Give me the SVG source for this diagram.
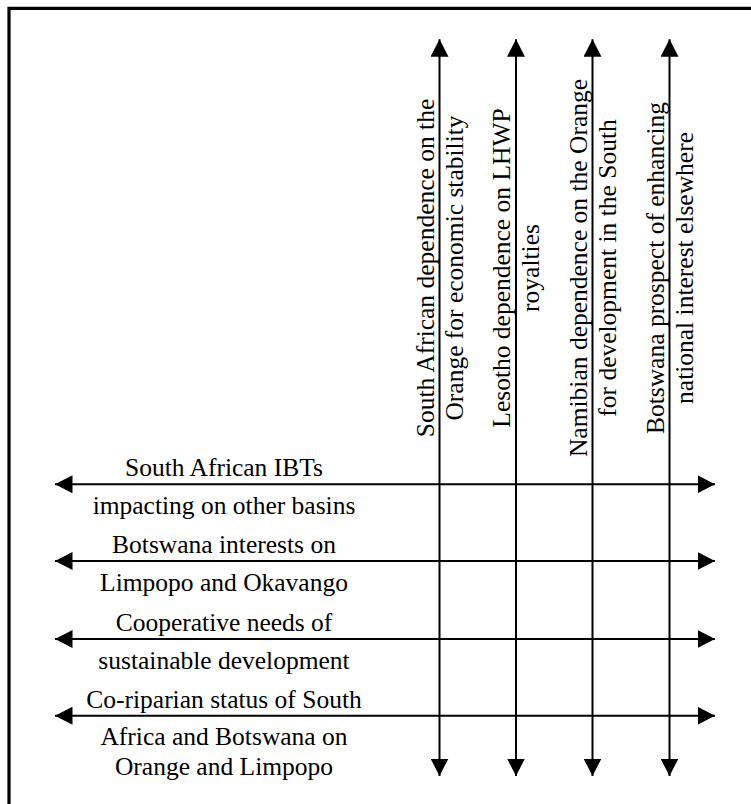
<svg xmlns="http://www.w3.org/2000/svg" width="751" height="804" viewBox="0 0 751 804">
<defs>
<style>
.t{font-family:"Liberation Serif","Times New Roman",serif;font-size:25.5px;fill:#000;text-anchor:middle}
.c{stroke:#000;stroke-width:2;fill:none;marker-start:url(#ah);marker-end:url(#ah)}
</style>
<marker id="ah" viewBox="0 0 17.5 18" refX="17.5" refY="9" markerWidth="17.5" markerHeight="18" markerUnits="userSpaceOnUse" orient="auto-start-reverse">
<path d="M0,0 L17.5,9 L0,18 Z" fill="#000"/>
</marker>
</defs>
<rect width="751" height="804" fill="#fff"/>
<path d="M9,804 V8.3 H751" fill="none" stroke="#000" stroke-width="3.2"/>
<g id="connectors">
<line class="c" x1="439.5" y1="39.3" x2="439.5" y2="776"/>
<line class="c" x1="516" y1="39.3" x2="516" y2="776"/>
<line class="c" x1="592.5" y1="39.3" x2="592.5" y2="776"/>
<line class="c" x1="669.5" y1="39.3" x2="669.5" y2="776"/>
<line class="c" x1="55" y1="484.3" x2="715" y2="484.3"/>
<line class="c" x1="55" y1="561" x2="715" y2="561"/>
<line class="c" x1="55" y1="639" x2="715" y2="639"/>
<line class="c" x1="55" y1="715.7" x2="715" y2="715.7"/>
</g>
<g id="node-sa-orange">
<text class="t" transform="translate(433.5,268) rotate(-90)">South African dependence on the</text>
<text class="t" transform="translate(462.5,268) rotate(-90)">Orange for economic stability</text>
</g>
<g id="node-lesotho">
<text class="t" transform="translate(510,268) rotate(-90)">Lesotho dependence on LHWP</text>
<text class="t" transform="translate(539,268) rotate(-90)">royalties</text>
</g>
<g id="node-namibia">
<text class="t" transform="translate(586.5,268) rotate(-90)">Namibian dependence on the Orange</text>
<text class="t" transform="translate(615.5,268) rotate(-90)">for development in the South</text>
</g>
<g id="node-botswana-prospect">
<text class="t" transform="translate(663.5,268) rotate(-90)">Botswana prospect of enhancing</text>
<text class="t" transform="translate(693,268) rotate(-90)">national interest elsewhere</text>
</g>
<g id="node-sa-ibts">
<text class="t" x="224" y="476.3">South African IBTs</text>
<text class="t" x="224" y="514.3">impacting on other basins</text>
</g>
<g id="node-botswana-interests">
<text class="t" x="224" y="553">Botswana interests on</text>
<text class="t" x="224" y="591">Limpopo and Okavango</text>
</g>
<g id="node-cooperative">
<text class="t" x="224" y="631">Cooperative needs of</text>
<text class="t" x="224" y="669">sustainable development</text>
</g>
<g id="node-coriparian">
<text class="t" x="224" y="707.7">Co-riparian status of South</text>
<text class="t" x="224" y="745.3">Africa and Botswana on</text>
<text class="t" x="224" y="774.5">Orange and Limpopo</text>
</g>
</svg>
